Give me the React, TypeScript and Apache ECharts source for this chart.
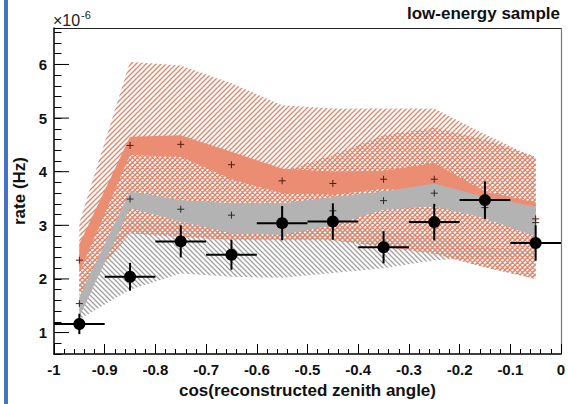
import React, { useEffect, useRef } from "react";
import * as echarts from "echarts";

// ---- data (rate in units of 1e-6 Hz) ----
const BIN_CENTERS = [-0.95, -0.85, -0.75, -0.65, -0.55, -0.45, -0.35, -0.25, -0.15, -0.05];
const BIN_HALF_WIDTH = 0.05;

const DATA_RATE = [1.16, 2.04, 2.70, 2.45, 3.04, 3.07, 2.59, 3.06, 3.47, 2.67];
const DATA_ERR = [0.19, 0.26, 0.30, 0.28, 0.32, 0.34, 0.30, 0.34, 0.35, 0.33];

const RED_CENTER = [2.35, 4.49, 4.51, 4.13, 3.83, 3.78, 3.86, 3.86, 3.47, 3.12];
const RED_STAT_LO = [2.12, 4.31, 4.28, 3.86, 3.60, 3.57, 3.68, 3.60, 3.30, 2.85];
const RED_STAT_HI = [2.65, 4.65, 4.68, 4.37, 4.06, 4.00, 4.02, 4.16, 3.63, 3.43];

const GRAY_CENTER = [1.54, 3.49, 3.30, 3.19, 3.12, 3.27, 3.46, 3.60, 3.33, 3.05];
const GRAY_STAT_LO = [1.29, 3.32, 3.07, 2.85, 2.82, 3.00, 3.29, 3.35, 3.13, 2.79];
const GRAY_STAT_HI = [1.67, 3.63, 3.47, 3.41, 3.41, 3.53, 3.63, 3.78, 3.53, 3.35];

const RED_SYS_LO = [1.72, 2.85, 2.78, 2.73, 2.73, 2.72, 2.60, 2.47, 2.22, 2.00];
const RED_SYS_HI = [3.05, 6.05, 5.98, 5.65, 5.24, 5.18, 5.18, 5.18, 4.70, 4.25];

const RED_CROSS_LO = [1.72, 2.85, 2.78, 2.73, 2.73, 2.72, 2.60, 2.47, 2.22, 2.00];
const RED_CROSS_HI = [2.50, 4.35, 4.30, 4.10, 4.00, 4.31, 4.68, 4.82, 4.60, 4.28];

const GRAY_SYS_LO = [1.25, 1.80, 2.10, 2.04, 2.02, 2.11, 2.20, 2.35, 2.40, 2.40];
const GRAY_SYS_HI = [1.90, 3.10, 3.05, 3.00, 3.00, 3.00, 2.90, 2.80, 2.60, 2.50];

const X_MIN = -1;
const X_MAX = 0;
const Y_MIN = 0.6;
const Y_MAX = 6.68;
const Y_MAJOR = [1, 2, 3, 4, 5, 6];

const FONT = "'Liberation Sans', Arial, Helvetica, sans-serif";

function hatch(color: string, dirs: string[], s: number, lw: number) {
  const c = document.createElement("canvas");
  c.width = s;
  c.height = s;
  const ctx = c.getContext("2d")!;
  ctx.strokeStyle = color;
  ctx.lineWidth = lw;
  ctx.beginPath();
  if (dirs.includes("/")) {
    ctx.moveTo(0, s); ctx.lineTo(s, 0);
    ctx.moveTo(-s, s); ctx.lineTo(s, -s);
    ctx.moveTo(0, 2 * s); ctx.lineTo(2 * s, 0);
  }
  if (dirs.includes("\\")) {
    ctx.moveTo(0, 0); ctx.lineTo(s, s);
    ctx.moveTo(-s, 0); ctx.lineTo(s, 2 * s);
    ctx.moveTo(0, -s); ctx.lineTo(2 * s, s);
  }
  ctx.stroke();
  return { image: c, repeat: "repeat", imageWidth: s, imageHeight: s } as any;
}

function band(name: string, lo: number[], hi: number[], fill: any, z: number) {
  return {
    type: "custom",
    name,
    z,
    silent: true,
    data: BIN_CENTERS.map((x, i) => [x, lo[i], hi[i]]),
    encode: { x: 0, y: [1, 2] },
    renderItem: (params: any, api: any) => {
      if (params.dataIndex !== 0) return null;
      const upper = BIN_CENTERS.map((x, i) => api.coord([x, hi[i]]));
      const lower = BIN_CENTERS.map((x, i) => api.coord([x, lo[i]])).reverse();
      return {
        type: "polygon",
        shape: { points: [...upper, ...lower] },
        style: { fill, stroke: null },
      };
    },
  };
}

function crosses(name: string, vals: number[], color: string, z: number) {
  return {
    type: "custom",
    name,
    z,
    silent: true,
    data: BIN_CENTERS.map((x, i) => [x, vals[i]]),
    encode: { x: 0, y: 1 },
    renderItem: (params: any, api: any) => {
      const p = api.coord([api.value(0), api.value(1)]);
      const a = 3.5;
      return {
        type: "group",
        children: [
          { type: "line", shape: { x1: p[0] - a, y1: p[1], x2: p[0] + a, y2: p[1] }, style: { stroke: color, lineWidth: 1 } },
          { type: "line", shape: { x1: p[0], y1: p[1] - a, x2: p[0], y2: p[1] + a }, style: { stroke: color, lineWidth: 1 } },
        ],
      };
    },
  };
}

export default function App() {
  const ref = useRef<HTMLDivElement>(null);

  useEffect(() => {
    if (!ref.current) return;
    const chart = echarts.init(ref.current, null, { renderer: "svg" });

    const redHatch = hatch("#e0846a", ["/"], 5, 1.3);
    const grayHatch = hatch("#a0a0a0", ["\\"], 5, 1.3);
    const redCross = hatch("#e0846a", ["/", "\\"], 5, 1.1);

    const option: any = {
      animation: false,
      backgroundColor: "#ffffff",
      grid: {
        left: 54,
        right: 7,
        top: 28,
        bottom: 50,
        show: false,
        outerBoundsMode: "none",
      },
      xAxis: {
        type: "value",
        min: X_MIN,
        max: X_MAX,
        interval: 0.1,
        name: "cos(reconstructed zenith angle)",
        nameLocation: "middle",
        nameGap: 27,
        nameTextStyle: { fontFamily: FONT, fontWeight: "bold", fontSize: 17, color: "#111" },
        axisLine: { show: true, onZero: false, lineStyle: { color: "#000", width: 1.5 } },
        axisTick: { show: true, inside: true, length: 10, lineStyle: { color: "#000", width: 1 } },
        minorTick: { show: true, splitNumber: 5, length: 5, lineStyle: { color: "#000", width: 1 } },
        splitLine: { show: false },
        axisLabel: {
          margin: 8,
          fontFamily: FONT,
          fontWeight: "bold",
          fontSize: 15,
          color: "#111",
          formatter: (v: number) => String(Math.round(v * 10) / 10),
        },
      },
      yAxis: {
        type: "value",
        min: Y_MIN,
        max: Y_MAX,
        interval: 0.2,
        name: "rate (Hz)",
        nameLocation: "middle",
        nameGap: 26,
        nameTextStyle: { fontFamily: FONT, fontWeight: "bold", fontSize: 17, color: "#111" },
        axisLine: { show: true, onZero: false, lineStyle: { color: "#000", width: 1.5 } },
        axisTick: { show: true, inside: true, length: 7.5, lineStyle: { color: "#000", width: 1 } },
        splitLine: { show: false },
        axisLabel: {
          interval: 0,
          margin: 7,
          fontFamily: FONT,
          fontWeight: "bold",
          fontSize: 15,
          color: "#111",
          formatter: (v: number) => (Math.abs(v - Math.round(v)) < 1e-6 ? String(Math.round(v)) : ""),
        },
      },
      graphic: [
        { type: "rect", shape: { x: 4, y: 0, width: 4, height: 404 }, style: { fill: "#4472c4" }, silent: true },
        { type: "line", shape: { x1: 54, y1: 28.5, x2: 561.5, y2: 28.5 }, style: { stroke: "#222", lineWidth: 1 }, silent: true },
        { type: "line", shape: { x1: 561.5, y1: 28, x2: 561.5, y2: 354 }, style: { stroke: "#777", lineWidth: 1.2 }, silent: true },
        {
          type: "text",
          x: 560,
          y: 13,
          style: { text: "low-energy sample", align: "right", verticalAlign: "middle", font: `bold 17px ${FONT}`, fill: "#111" },
          silent: true,
        },
        {
          type: "text",
          x: 53,
          y: 12,
          style: { text: "×10", align: "left", verticalAlign: "top", font: `16px ${FONT}`, fill: "#222" },
          silent: true,
        },
        {
          type: "text",
          x: 81,
          y: 9,
          style: { text: "-6", align: "left", verticalAlign: "top", font: `11px ${FONT}`, fill: "#222" },
          silent: true,
        },
      ],
      series: [
        band("red systematic", RED_SYS_LO, RED_SYS_HI, redHatch, 1),
        band("gray systematic", GRAY_SYS_LO, GRAY_SYS_HI, grayHatch, 2),
        band("red cross", RED_CROSS_LO, RED_CROSS_HI, redCross, 3),
        band("red stat", RED_STAT_LO, RED_STAT_HI, "#ea8d72", 4),
        band("gray stat", GRAY_STAT_LO, GRAY_STAT_HI, "#b3b3b3", 5),
        crosses("red center", RED_CENTER, "#5a1a10", 6),
        crosses("gray center", GRAY_CENTER, "#2a2a2a", 6),
        {
          type: "custom",
          name: "data",
          z: 7,
          silent: true,
          data: BIN_CENTERS.map((x, i) => [x, DATA_RATE[i], DATA_ERR[i]]),
          encode: { x: 0, y: 1 },
          renderItem: (params: any, api: any) => {
            const x = api.value(0);
            const y = api.value(1);
            const e = api.value(2);
            const c = api.coord([x, y]);
            const l = api.coord([x - BIN_HALF_WIDTH, y]);
            const r = api.coord([x + BIN_HALF_WIDTH, y]);
            const t = api.coord([x, y + e]);
            const b = api.coord([x, y - e]);
            return {
              type: "group",
              children: [
                { type: "line", shape: { x1: l[0], y1: l[1], x2: r[0], y2: r[1] }, style: { stroke: "#000", lineWidth: 2 } },
                { type: "line", shape: { x1: t[0], y1: t[1], x2: b[0], y2: b[1] }, style: { stroke: "#000", lineWidth: 2 } },
                { type: "circle", shape: { cx: c[0], cy: c[1], r: 6 }, style: { fill: "#000" } },
              ],
            };
          },
        },
        {
          type: "custom",
          name: "y major ticks",
          z: 8,
          silent: true,
          data: Y_MAJOR.map((v) => [X_MIN, v]),
          encode: { x: 0, y: 1 },
          renderItem: (params: any, api: any) => {
            const p = api.coord([api.value(0), api.value(1)]);
            return {
              type: "line",
              shape: { x1: p[0], y1: p[1], x2: p[0] + 15, y2: p[1] },
              style: { stroke: "#000", lineWidth: 1 },
            };
          },
        },
      ],
    };

    chart.setOption(option);
    return () => chart.dispose();
  }, []);

  return (
    <div
      ref={ref}
      style={{ position: "fixed", left: 0, top: 0, width: 568, height: 404, background: "#fff" }}
    />
  );
}
